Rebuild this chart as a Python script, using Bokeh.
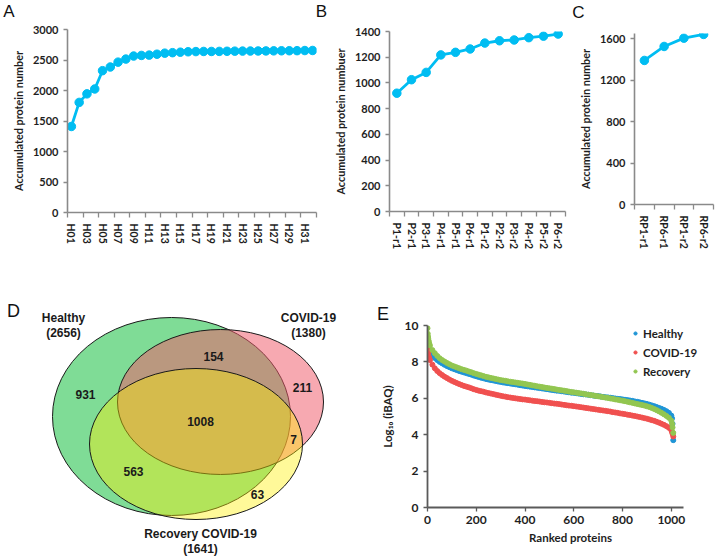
from bokeh.plotting import figure
from bokeh.layouts import row, column
from bokeh.models import Range1d, FixedTicker, Legend, LegendItem, Title
from bokeh.core.properties import value
from bokeh.embed import file_html
from bokeh.resources import INLINE

# ---------------- data ----------------
a_samples = ["H%02d" % i for i in range(1, 33)]
a_counts = [1410, 1805, 1945, 2025, 2325, 2385, 2465, 2515, 2565, 2575,
            2580, 2595, 2612, 2620, 2628, 2635, 2638, 2640, 2640, 2641,
            2643, 2645, 2646, 2647, 2648, 2649, 2650, 2651, 2652, 2653,
            2655, 2656]

b_samples = ["P1-r1", "P2-r1", "P3-r1", "P4-r1", "P5-r1", "P6-r1",
             "P1-r2", "P2-r2", "P3-r2", "P4-r2", "P5-r2", "P6-r2"]
b_counts = [920, 1025, 1082, 1218, 1238, 1264, 1310, 1328, 1334, 1352, 1364, 1380]

c_samples = ["RP1-r1", "RP6-r1", "RP1-r2", "RP6-r2"]
c_counts = [1390, 1525, 1605, 1641]

panel_letters = ["A", "B", "C", "D", "E"]

venn_sets = ["Healthy", "COVID-19", "Recovery COVID-19"]
venn_totals = [2656, 1380, 1641]
venn_regions = ["Healthy only", "Healthy & COVID-19", "COVID-19 only", "All three",
                "COVID-19 & Recovery", "Healthy & Recovery", "Recovery only"]
venn_counts = [931, 154, 211, 1008, 7, 563, 63]

e_series = ["Healthy", "COVID-19", "Recovery"]
e_ranks = [0, 1, 2, 3, 5, 7] + list(range(10, 1001, 10)) + [1003, 1005, 1008]
e_healthy = [9.10, 9.00, 8.90, 8.82, 8.72, 8.65,
             8.58, 8.38, 8.22, 8.10, 8.00, 7.92, 7.84, 7.77, 7.71, 7.65,
             7.60, 7.55, 7.50, 7.46, 7.42, 7.38, 7.34, 7.30, 7.25, 7.21,
             7.17, 7.13, 7.10, 7.06, 7.03, 7.00, 6.98, 6.95, 6.92, 6.90,
             6.87, 6.85, 6.83, 6.81, 6.79, 6.77, 6.75, 6.72, 6.70, 6.68,
             6.66, 6.64, 6.62, 6.60, 6.58, 6.56, 6.54, 6.52, 6.50, 6.48,
             6.46, 6.44, 6.42, 6.41, 6.39, 6.37, 6.35, 6.33, 6.31, 6.30,
             6.28, 6.26, 6.24, 6.22, 6.21, 6.19, 6.17, 6.15, 6.13, 6.12,
             6.10, 6.08, 6.06, 6.05, 6.03, 6.01, 5.99, 5.97, 5.96, 5.94,
             5.92, 5.90, 5.88, 5.86, 5.83, 5.81, 5.78, 5.75, 5.72, 5.69,
             5.65, 5.61, 5.57, 5.52, 5.47, 5.42, 5.36, 5.29, 5.20, 5.05,
             4.90, 4.60, 3.70]
e_covid = [8.90, 8.70, 8.55, 8.45, 8.30, 8.20,
           8.10, 7.85, 7.65, 7.50, 7.38, 7.28, 7.19, 7.11, 7.03, 6.96,
           6.90, 6.84, 6.78, 6.73, 6.68, 6.64, 6.60, 6.55, 6.50, 6.46,
           6.42, 6.39, 6.36, 6.32, 6.29, 6.26, 6.23, 6.20, 6.17, 6.14,
           6.11, 6.09, 6.06, 6.04, 6.02, 6.00, 5.98, 5.96, 5.94, 5.93,
           5.91, 5.89, 5.87, 5.85, 5.84, 5.82, 5.80, 5.78, 5.77, 5.75,
           5.73, 5.71, 5.70, 5.68, 5.66, 5.64, 5.62, 5.60, 5.59, 5.57,
           5.55, 5.53, 5.51, 5.49, 5.47, 5.45, 5.43, 5.41, 5.39, 5.37,
           5.35, 5.33, 5.31, 5.29, 5.27, 5.24, 5.22, 5.20, 5.17, 5.15,
           5.13, 5.10, 5.08, 5.05, 5.03, 5.00, 4.97, 4.94, 4.91, 4.88,
           4.84, 4.80, 4.76, 4.71, 4.66, 4.60, 4.54, 4.47, 4.38, 4.25,
           4.15, 4.05, 3.90]
e_recovery = [9.85, 9.55, 9.40, 9.30, 9.15, 9.02,
              8.90, 8.65, 8.48, 8.33, 8.20, 8.10, 8.02, 7.94, 7.87, 7.80,
              7.75, 7.70, 7.65, 7.60, 7.56, 7.52, 7.47, 7.43, 7.38, 7.34,
              7.30, 7.26, 7.22, 7.18, 7.15, 7.12, 7.09, 7.06, 7.03, 7.00,
              6.98, 6.96, 6.93, 6.91, 6.89, 6.87, 6.85, 6.83, 6.81, 6.79,
              6.76, 6.74, 6.71, 6.69, 6.66, 6.64, 6.62, 6.59, 6.57, 6.55,
              6.53, 6.51, 6.48, 6.46, 6.44, 6.42, 6.40, 6.37, 6.35, 6.33,
              6.31, 6.29, 6.27, 6.25, 6.22, 6.20, 6.18, 6.16, 6.13, 6.11,
              6.09, 6.06, 6.04, 6.02, 5.99, 5.97, 5.94, 5.92, 5.89, 5.87,
              5.84, 5.81, 5.78, 5.75, 5.72, 5.69, 5.66, 5.63, 5.60, 5.56,
              5.52, 5.47, 5.41, 5.35, 5.28, 5.20, 5.12, 5.03, 4.93, 4.77,
              4.60, 4.40, 4.10]

# ---------------- styles ----------------
LINE = "#00bdf2"
AX = "#8a8a8a"
TXT = "#1e1e1e"
FONT = "Lato"
LETTER_FONT = "Liberation Sans"


def style_common(p):
    p.outline_line_color = None
    p.grid.visible = False
    p.background_fill_color = "white"
    p.border_fill_color = "white"


def bare_figure(width, height, xr, yr):
    p = figure(width=width, height=height, x_range=Range1d(*xr), y_range=Range1d(*yr),
               output_backend="svg", toolbar_location=None,
               x_axis_location=None, y_axis_location=None,
               min_border_left=0, min_border_right=0, min_border_top=0, min_border_bottom=0)
    style_common(p)
    return p


def line_panel(labels, counts, width, height, left, right, top, bottom,
               ymax, ystep, ylabel, tick_every):
    n = len(labels)
    p = figure(width=width, height=height, x_range=Range1d(-0.5, n - 0.5),
               y_range=Range1d(0, ymax), output_backend="svg", toolbar_location=None,
               min_border_left=left, min_border_right=right,
               min_border_top=top, min_border_bottom=bottom)
    style_common(p)
    xs = list(range(n))
    p.line(xs, counts, line_color=LINE, line_width=2.8)
    p.scatter(xs, counts, size=8.5, fill_color=LINE, line_color=LINE)

    major = list(range(0, n, tick_every))
    minor = [k - 0.5 for k in range(0, n + 1, tick_every)]
    xa = p.xaxis[0]
    xa.ticker = FixedTicker(ticks=major, minor_ticks=minor)
    xa.major_label_overrides = {k: labels[k] for k in major}
    xa.major_label_orientation = "vertical"
    xa.major_tick_out = 0
    xa.major_tick_in = 0
    xa.minor_tick_out = 5
    xa.minor_tick_in = 0
    xa.minor_tick_line_color = AX
    xa.minor_tick_line_width = 1.3
    xa.major_label_standoff = 6
    xa.major_label_text_font = FONT
    xa.major_label_text_font_style = "bold"
    xa.major_label_text_font_size = "10.5px"
    xa.major_label_text_color = TXT
    xa.axis_line_color = AX
    xa.axis_line_width = 1.6

    ya = p.yaxis[0]
    ya.ticker = FixedTicker(ticks=list(range(0, ymax + 1, ystep)))
    ya.major_tick_out = 4
    ya.major_tick_in = 0
    ya.minor_tick_line_color = None
    ya.major_tick_line_color = AX
    ya.major_tick_line_width = 1.3
    ya.axis_line_color = AX
    ya.axis_line_width = 1.6
    ya.major_label_standoff = 5
    ya.major_label_text_font = FONT
    ya.major_label_text_font_style = "bold"
    ya.major_label_text_font_size = "11px"
    ya.major_label_text_color = TXT
    ya.axis_label = ylabel
    ya.axis_label_text_font = FONT
    ya.axis_label_text_font_style = "bold"
    ya.axis_label_text_font_size = "10.8px"
    ya.axis_label_text_color = TXT
    ya.axis_label_standoff = 5
    return p


# strip holding the letters of the top row
pL = bare_figure(715, 20, (0, 715), (20, 0))
pL.text(x=[8.5, 321, 578], y=[11, 11, 11.5], text=panel_letters[:3],
        text_font=value(LETTER_FONT), text_font_size="17px",
        text_align="center", text_baseline="middle", text_color="#111111")

pA = line_panel(a_samples, a_counts, 330, 242, 67, 14, 9, 50, 3000, 500,
                "Accumulated protein number", 2)
pB = line_panel(b_samples, b_counts, 245, 242, 54, 10, 11, 51, 1400, 200,
                "Accumulated protein numbuer", 1)
pC = line_panel(c_samples, c_counts, 140, 242, 59, 2, 13, 58, 1650, 400,
                "Accumulated protein number", 1)

# ---------------- panel D: Venn ----------------
pD = bare_figure(360, 294, (0, 360), (556, 262))

ell_x = [171, 220, 195.5]
ell_y = [416, 401.5, 443.5]
ell_w = [238, 206, 213]
ell_h = [198, 145, 151]
ell_fill = ["#00b92d", "#f05a6a", "#fff000"]
ell_alpha = [0.5, 0.52, 0.4]
for i in range(3):
    pD.ellipse(x=[ell_x[i]], y=[ell_y[i]], width=[ell_w[i]], height=[ell_h[i]],
               fill_color=ell_fill[i], fill_alpha=ell_alpha[i],
               line_color="#1a1a1a", line_width=1)

reg_x = [85, 213, 302, 200, 293, 133, 257]
reg_y = [394, 356, 387, 421, 439, 471, 494]
pD.text(x=reg_x, y=reg_y, text=[str(c) for c in venn_counts],
        text_font=value(LETTER_FONT), text_font_style="bold", text_font_size="12px",
        text_align="center", text_baseline="middle", text_color="#1a1a1a")

name_x = [63, 308, 200]
name_y = [317, 317, 533]
pD.text(x=name_x, y=name_y, text=venn_sets,
        text_font=value(LETTER_FONT), text_font_style="bold", text_font_size="12px",
        text_align="center", text_baseline="middle", text_color="#1a1a1a")
pD.text(x=name_x, y=[v + 15 for v in name_y], text=["(%d)" % t for t in venn_totals],
        text_font=value(LETTER_FONT), text_font_style="bold", text_font_size="12px",
        text_align="center", text_baseline="middle", text_color="#1a1a1a")
pD.text(x=[13], y=[310], text=[panel_letters[3]], text_font=value(LETTER_FONT),
        text_font_size="18px", text_align="center", text_baseline="middle",
        text_color="#111111")

# ---------------- panel E ----------------
e_xmax_axis = 1050
pE = figure(width=355, height=294, x_range=Range1d(0, 1173), y_range=Range1d(0, 10),
            output_backend="svg", toolbar_location=None,
            min_border_left=67, min_border_right=2, min_border_top=63, min_border_bottom=49,
            title=Title(text=panel_letters[4], align="left", offset=-50.5, standoff=0,
                        vertical_align="top", text_font=LETTER_FONT, text_font_size="18px",
                        text_font_style="normal", text_color="#111111"))
style_common(pE)
e_colors = ["#1f95d6", "#f0504f", "#92c650"]
rends = []
for vals, col in zip([e_healthy, e_covid, e_recovery], e_colors):
    r = pE.scatter(e_ranks, vals, size=5, fill_color=col, line_color=col)
    rends.append(r)

EAX = "#5a5a5a"
xa = pE.xaxis[0]
xa.ticker = FixedTicker(ticks=[0, 200, 400, 600, 800, 1000])
xa.bounds = (0, e_xmax_axis)
ya = pE.yaxis[0]
ya.ticker = FixedTicker(ticks=[0, 2, 4, 6, 8, 10])
for ax in (xa, ya):
    ax.axis_line_color = EAX
    ax.axis_line_width = 1.8
    ax.major_tick_line_color = EAX
    ax.major_tick_line_width = 1.3
    ax.major_tick_out = 4
    ax.major_tick_in = 0
    ax.minor_tick_line_color = None
    ax.major_label_text_font = FONT
    ax.major_label_text_font_style = "bold"
    ax.major_label_text_font_size = "12px"
    ax.major_label_text_color = TXT
    ax.axis_label_text_font = FONT
    ax.axis_label_text_font_style = "bold"
    ax.axis_label_text_font_size = "11.5px"
    ax.axis_label_text_color = TXT
xa.major_label_standoff = 4
xa.axis_label_standoff = 4
xa.axis_label = "Ranked proteins"
ya.major_label_standoff = 5
ya.axis_label_standoff = 8
ya.axis_label = "Log\u2081\u2080 (iBAQ)"

legend = Legend(items=[LegendItem(label=s, renderers=[r]) for s, r in zip(e_series, rends)],
                location=(204, 128), orientation="vertical",
                background_fill_alpha=0, border_line_color=None,
                padding=0, margin=0, spacing=3, glyph_width=8, glyph_height=16,
                label_height=16, label_standoff=4,
                label_text_font=FONT, label_text_font_style="bold",
                label_text_font_size="11.5px", label_text_color=TXT)
pE.add_layout(legend)

top_row = row(column(pA), column(pB), column(pC), spacing=0)
bottom_row = row(column(pD), column(pE), spacing=0)
layout = column(column(pL), top_row, bottom_row, spacing=0)
open("out.html", "w").write(file_html(layout, INLINE))
